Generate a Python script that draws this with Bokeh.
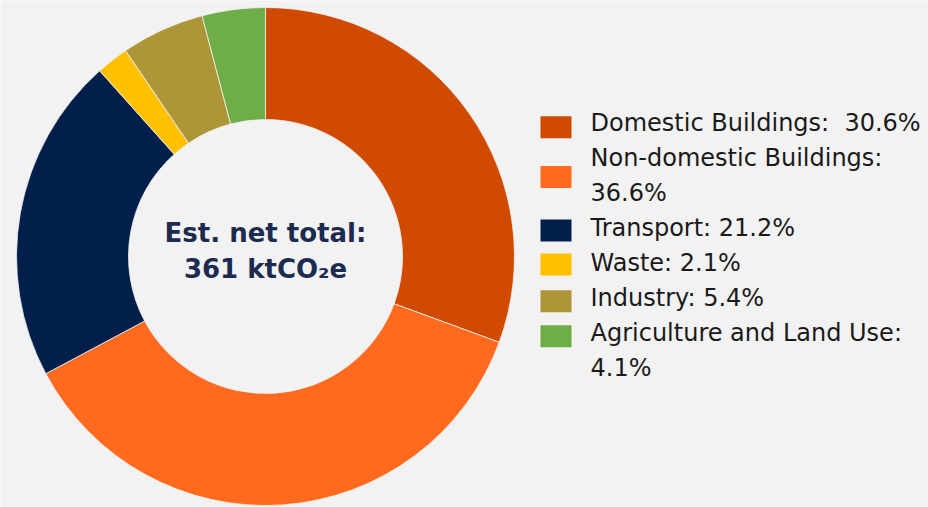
import math
from bokeh.plotting import figure
from bokeh.models import Range1d, ColumnDataSource
from bokeh.core.properties import value
from bokeh.embed import file_html
from bokeh.resources import INLINE

# ---- data ----
categories = ["Domestic Buildings", "Non-domestic Buildings", "Transport",
              "Waste", "Industry", "Agriculture and Land Use"]
shares = [30.6, 36.6, 21.2, 2.1, 5.4, 4.1]
colors = ["#D04A02", "#FF6A1F", "#021F4B", "#FFC000", "#AE9638", "#6FAD47"]
legend_lines = [["Domestic Buildings:\u00a0 30.6%"],
                ["Non-domestic Buildings:", "36.6%"],
                ["Transport: 21.2%"],
                ["Waste: 2.1%"],
                ["Industry: 5.4%"],
                ["Agriculture and Land Use:", "4.1%"]]
center_lines = ["Est. net total:", "361 ktCO\u2082e"]

W, H = 928, 507
BG = "#F2F2F2"

p = figure(width=W, height=H, x_range=Range1d(0, W), y_range=Range1d(0, H),
           output_backend="svg", toolbar_location=None,
           x_axis_type=None, y_axis_type=None, min_border=0)
p.grid.visible = False
p.outline_line_color = None
p.background_fill_color = BG
p.border_fill_color = BG

# page -> figure coordinates
def fx(px):
    return px

def fy(py):
    return H - py

cx, cy = fx(265), fy(256)
total = sum(shares)
starts, ends = [], []
cum = 0.0
for s in shares:
    starts.append(math.pi / 2 - 2 * math.pi * cum / total)
    cum += s
    ends.append(math.pi / 2 - 2 * math.pi * cum / total)

src = ColumnDataSource(dict(x=[cx] * len(shares), y=[cy] * len(shares),
                            start=starts, end=ends, color=colors))
p.annular_wedge(x="x", y="y", inner_radius=137, outer_radius=249,
                start_angle="start", end_angle="end", direction="clock",
                fill_color="color", line_color=BG, line_width=0.8, source=src)

# center text
p.text(x=[cx, cx], y=[fy(232), fy(268)], text=center_lines,
       text_font=value("DejaVu Sans"), text_font_style="bold",
       text_font_size="26px", text_color="#1C2B4F",
       text_align="center", text_baseline="middle")

# legend
line_step = 35
first_line_y = 122
square_pos = [0.08, 1.5, 3.03, 4.0, 5.05, 6.05]
tx, ty, tt = [], [], []
sx, sy = [], []
li = 0
for i, lines in enumerate(legend_lines):
    sx.append(fx(555.5))
    sy.append(fy(first_line_y + square_pos[i] * line_step + 2))
    for ln in lines:
        tx.append(fx(590))
        ty.append(fy(first_line_y + li * line_step))
        tt.append(ln)
        li += 1

p.rect(x=sx, y=sy, width=31, height=22, fill_color=colors, line_color=None)
p.text(x=tx, y=ty, text=tt, text_font=value("DejaVu Sans"),
       text_font_size="24px", text_color="#1A1A1A",
       text_align="left", text_baseline="middle")

open("out.html", "w").write(file_html(p, INLINE))
